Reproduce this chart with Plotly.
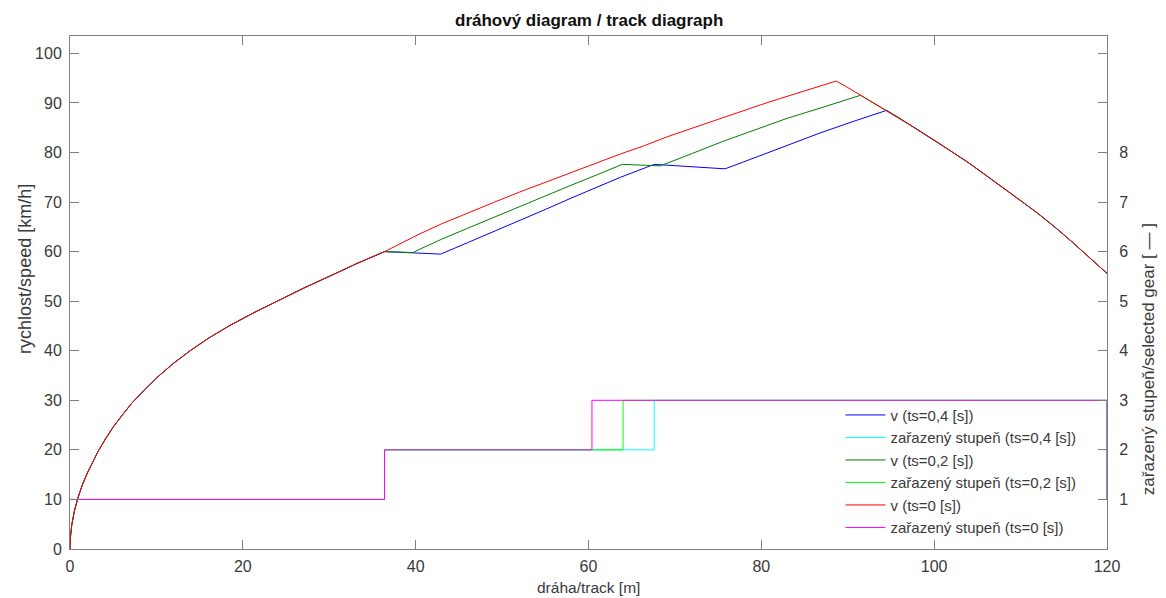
import plotly.graph_objects as go

# ---------------- data ----------------
# common start of all speed curves (track [m], speed [km/h]) up to the first shift
s_start = [0, 0.05, 0.2, 0.5, 0.9, 1.4, 2.0, 2.6, 3.28, 4.1, 5.0, 6.0, 7.14, 8.5, 10.0,
           12.0, 13.9, 16.0, 18.5, 21.3, 24.3, 27.0, 30.0, 33.2, 36.4]
v_start = [0, 2.4, 4.8, 7.6, 10.2, 12.8, 15.3, 17.5, 19.8, 22.2, 24.6, 26.9, 29.4, 31.9, 34.5,
           37.5, 40.0, 42.5, 45.1, 47.7, 50.3, 52.6, 55.0, 57.6, 60.0]

# v (ts=0 [s])
s_ts0 = s_start + [40.5, 43.0, 46.0, 49.0, 52.0, 55.0, 58.0, 61.0, 63.7, 66.5, 69.0, 72.0,
                   75.3, 77.6, 79.9, 82.2, 84.5, 86.6, 88.65, 90.0, 92.0, 94.5, 96.0, 98.0,
                   100.0, 102.0, 104.0, 106.0, 108.0, 110.0, 112.0, 114.0, 116.0, 118.0, 120.0]
v_ts0 = v_start + [63.6, 65.6, 67.8, 69.9, 72.0, 74.0, 76.0, 77.9, 79.7, 81.4, 83.1, 84.9,
                   86.9, 88.3, 89.6, 90.9, 92.1, 93.3, 94.4, 93.1, 91.0, 88.5, 86.9, 84.7,
                   82.5, 80.2, 77.9, 75.4, 72.9, 70.3, 67.7, 64.9, 61.9, 58.8, 55.6]

# v (ts=0,2 [s])
s_ts02 = s_start + [39.7, 40.5, 43.0, 46.0, 49.0, 52.0, 55.0, 58.0, 61.0, 63.9, 68.3, 70.0,
                    72.0, 75.5, 79.4, 83.0, 86.9, 89.2, 91.5, 92.0, 94.5, 96.0, 98.0, 100.0,
                    102.0, 104.0, 106.0, 108.0, 110.0, 112.0, 114.0, 116.0, 118.0, 120.0]
v_ts02 = v_start + [59.8, 60.5, 62.5, 64.7, 66.9, 69.1, 71.3, 73.4, 75.5, 77.6, 77.3, 78.4,
                    79.8, 82.2, 84.7, 86.9, 89.0, 90.3, 91.55, 91.0, 88.5, 86.9, 84.7, 82.5,
                    80.2, 77.9, 75.4, 72.9, 70.3, 67.7, 64.9, 61.9, 58.8, 55.6]

# v (ts=0,4 [s])
s_ts04 = s_start + [42.9, 46.0, 49.0, 52.0, 55.0, 58.0, 61.0, 63.7, 67.6, 75.8, 77.8, 79.9,
                    83.5, 86.9, 90.7, 94.5, 96.0, 98.0, 100.0, 102.0, 104.0, 106.0, 108.0,
                    110.0, 112.0, 114.0, 116.0, 118.0, 120.0]
v_ts04 = v_start + [59.5, 61.8, 64.0, 66.3, 68.5, 70.8, 73.0, 75.0, 77.6, 76.7, 78.0, 79.4,
                    81.8, 84.0, 86.3, 88.5, 86.9, 84.7, 82.5, 80.2, 77.9, 75.4, 72.9,
                    70.3, 67.7, 64.9, 61.9, 58.8, 55.6]

# selected gear
s_gear_ts04 = [0, 36.4, 36.4, 67.6, 67.6, 120, 120]
g_gear_ts04 = [1, 1, 2, 2, 3, 3, 1]
s_gear_ts02 = [0, 36.4, 36.4, 64.0, 64.0, 120, 120]
g_gear_ts02 = [1, 1, 2, 2, 3, 3, 1]
s_gear_ts0 = [0, 36.4, 36.4, 60.4, 60.4, 120, 120]
g_gear_ts0 = [1, 1, 2, 2, 3, 3, 1]

x_ticks = [0, 20, 40, 60, 80, 100, 120]
y_ticks = [0, 10, 20, 30, 40, 50, 60, 70, 80, 90, 100]
y2_ticks = [0, 1, 2, 3, 4, 5, 6, 7, 8, 9, 10]
y2_labels = ["", "1", "2", "3", "4", "5", "6", "7", "8", "", ""]

# ---------------- figure ----------------
FONT = "Liberation Sans, Arial, Helvetica, sans-serif"
AX = "#7f7f7f"
TXT = "#3a3a3a"

# the page body has an 8 px default margin: the figure is sized to end at the
# window edge and all layout positions are measured from the figure's own corner
PAGE_OFF = 8

fig = go.Figure()
series = [
    (s_ts04, v_ts04, "v (ts=0,4 [s])", "#0000ff", "y"),
    (s_gear_ts04, g_gear_ts04, "zařazený stupeň (ts=0,4 [s])", "#00ffff", "y2"),
    (s_ts02, v_ts02, "v (ts=0,2 [s])", "#008000", "y"),
    (s_gear_ts02, g_gear_ts02, "zařazený stupeň (ts=0,2 [s])", "#00ff00", "y2"),
    (s_ts0, v_ts0, "v (ts=0 [s])", "#ff0000", "y"),
    (s_gear_ts0, g_gear_ts0, "zařazený stupeň (ts=0 [s])", "#ff00ff", "y2"),
]
for xs, ys, name, col, ax in series:
    fig.add_trace(go.Scatter(x=xs, y=ys, name=name, mode="lines", yaxis=ax,
                             line=dict(color=col, width=1.0)))

fig.update_layout(
    width=1166 - PAGE_OFF, height=598 - PAGE_OFF,
    margin=dict(l=70 - PAGE_OFF, r=59, t=36 - PAGE_OFF, b=49),
    paper_bgcolor="white", plot_bgcolor="white",
    font=dict(family=FONT, size=16, color=TXT),
    showlegend=True,
    legend=dict(x=0.743, xanchor="left", y=0.293, yanchor="top",
                bgcolor="rgba(0,0,0,0)", borderwidth=0,
                font=dict(family=FONT, size=15, color=TXT),
                itemwidth=40, tracegroupgap=0),
    xaxis=dict(range=[0, 120], tickvals=x_ticks, ticks="inside", ticklen=9,
               tickcolor=AX, showline=True, linecolor=AX, linewidth=1,
               mirror="ticks", showgrid=False, zeroline=False,
               tickfont=dict(size=16, color=TXT), ticklabelstandoff=3),
    yaxis=dict(range=[0, 103.5], tickvals=y_ticks, ticks="inside", ticklen=9,
               tickcolor=AX, showline=True, linecolor=AX, linewidth=1,
               mirror=False, showgrid=False, zeroline=False,
               tickfont=dict(size=16, color=TXT), ticklabelstandoff=4),
    yaxis2=dict(range=[0, 10.35], tickvals=y2_ticks, ticktext=y2_labels,
                overlaying="y", side="right", ticks="inside", ticklen=9,
                tickcolor=AX, showline=True, linecolor=AX, linewidth=1,
                showgrid=False, zeroline=False,
                tickfont=dict(size=16, color=TXT), ticklabelstandoff=8),
    annotations=[
        dict(text="<b>dráhový diagram / track diagraph</b>", xref="paper", yref="paper",
             x=0.5, y=1.0, xanchor="center", yanchor="middle", yshift=16, showarrow=False,
             font=dict(family=FONT, size=17, color="#111111")),
        dict(text="dráha/track [m]", xref="paper", yref="paper",
             x=0.5, y=0, xanchor="center", yanchor="middle", yshift=-38, showarrow=False,
             font=dict(family=FONT, size=15.5, color=TXT)),
        dict(text="rychlost/speed [km/h]", xref="paper", yref="paper",
             x=0, xshift=-45, y=0.546, xanchor="center", yanchor="middle",
             textangle=-90, showarrow=False,
             font=dict(family=FONT, size=18, color=TXT)),
        dict(text="zařazený stupeň/selected gear [ — ]", xref="paper", yref="paper",
             x=1, xshift=41, y=0.37, xanchor="center", yanchor="middle",
             textangle=-90, showarrow=False,
             font=dict(family=FONT, size=17, color=TXT)),
    ],
)

fig.write_html("out.html")
